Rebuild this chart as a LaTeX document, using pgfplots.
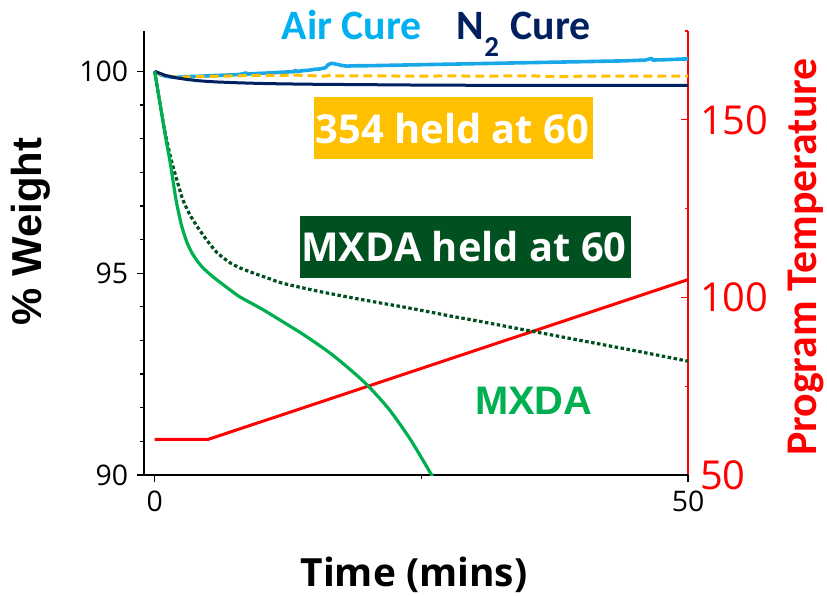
\documentclass[border=0pt]{standalone}
\usepackage{fontspec}
\usepackage{pgfplots}
\pgfplotsset{compat=1.18}
\setmainfont{Open Sans}
\newfontfamily\osans{Open Sans}
\newfontfamily\carl{Carlito}
\newfontfamily\arialf{Liberation Sans}

\definecolor{airblue}{RGB}{0,176,240}
\definecolor{airline}{RGB}{24,168,234}
\definecolor{navy}{RGB}{0,32,96}
\definecolor{amber}{RGB}{255,192,0}
\definecolor{dkgreen}{RGB}{0,80,32}
\definecolor{mgreen}{RGB}{0,176,80}

% weight-loss curves (time in min, % weight)
\pgfplotstableread{
t w
0 100
0.3 99.95
0.6 99.91
1 99.88
1.5 99.86
2 99.85
2.5 99.86
3 99.87
4 99.875
5 99.89
6 99.9
7 99.91
8 99.925
8.6 99.96
8.7 99.93
9 99.94
10 99.95
11 99.965
12 99.98
13 99.99
13.2 100.03
13.3 99.995
14 100.02
14.5 100.03
15 100.05
15.5 100.06
16 100.09
16.3 100.17
16.6 100.2
17 100.18
17.5 100.15
18 100.13
19 100.14
20 100.14
22 100.15
24 100.16
26 100.17
28 100.18
30 100.19
32 100.2
34 100.21
36 100.22
38 100.23
40 100.24
42 100.25
44 100.26
46 100.28
46.6 100.32
46.7 100.28
48 100.29
50 100.31
}\aircure

\pgfplotstableread{
t w
0 100
0.5 99.93
1 99.89
2 99.86
3 99.86
4 99.87
6 99.88
8 99.89
10 99.9
12 99.9
13 99.91
14 99.9
15 99.89
16 99.88
16.5 99.91
17 99.89
20 99.89
25 99.88
28 99.89
30 99.88
35 99.89
38 99.87
40 99.88
45 99.88
50 99.88
}\heldthree

\pgfplotstableread{
t w
0 100
0.5 99.95
1 99.9
2 99.84
3 99.8
4 99.77
5 99.75
6 99.735
8 99.715
10 99.7
12 99.69
15 99.68
20 99.67
25 99.66
30 99.655
40 99.65
50 99.65
}\ntwocure

\pgfplotstableread{
t w
0 100
0.5 99.2
1.0 98.45
1.58 97.78
2.2 97.2
2.67 96.8
3.3 96.45
3.93 96.18
4.8 95.85
5.8 95.52
7 95.27
8 95.13
9.5 94.98
10.8 94.86
12 94.75
15.2 94.56
18.3 94.4
21 94.27
24 94.13
27.7 93.94
30 93.83
35 93.58
40 93.33
45 93.08
50 92.82
}\mxdaheld

\pgfplotstableread{
t w
0 100
0.5 99.2
1.0 98.4
1.43 97.78
1.8 97.15
2.05 96.75
2.5 96.2
3.0 95.78
3.5 95.5
4.0 95.3
4.5 95.14
5.2 94.97
6 94.8
7 94.6
8 94.41
10 94.12
11.5 93.88
14 93.47
16.4 93.03
18.3 92.62
20 92.21
22 91.62
24 90.87
26.1 89.94
}\mxda

\begin{document}
\begin{tikzpicture}
\useasboundingbox (-144bp,-121bp) rectangle (683bp,475bp);

% program temperature on the right-hand axis
\begin{axis}[
  scale only axis, width=544bp, height=444bp,
  xmin=-1, xmax=50, ymin=50, ymax=175,
  axis x line=none, axis y line*=right,
  axis line style={-, red, line width=1.4bp},
  ytick={50,100,150}, minor ytick={75,125,175},
  tick align=inside,
  major tick length=7bp, minor tick length=3.5bp,
  tick style={red, line width=1.2bp},
  /pgf/number format/assume math mode=true,
  yticklabel style={font=\osans\fontsize{40}{40}\selectfont, text=red,
    anchor=west, inner sep=0pt},
  yticklabel shift=12bp,
]
\addplot[red, line width=3bp, line join=round] coordinates {(0,60) (5,60) (50,105)};
\end{axis}

% percent weight on the left-hand axis
\begin{axis}[
  scale only axis, width=544bp, height=444bp,
  xmin=-1, xmax=50, ymin=90, ymax=101,
  axis x line*=bottom, axis y line*=left,
  axis line style={-, black, line width=1.4bp},
  xtick={0,50}, minor xtick={25},
  ytick={90,95,100}, minor y tick num=5,
  tick align=outside,
  major tick length=7bp, minor tick length=3.5bp,
  tick style={black, line width=1.2bp},
  /pgf/number format/assume math mode=true,
  tick label style={font=\osans\fontsize{28.5}{30}\selectfont},
  yticklabel style={anchor=east, inner sep=0pt},
  xticklabel style={anchor=north, inner sep=0pt},
  yticklabel shift=8.7bp,
  xticklabel shift=9bp,
]
\addplot[airline, line width=3.6bp, line join=round] table[x=t,y=w] {\aircure};
\addplot[amber, line width=3bp, dash pattern=on 9bp off 5bp] table[x=t,y=w] {\heldthree};
\addplot[navy, line width=3bp, line join=round] table[x=t,y=w] {\ntwocure};
\addplot[dkgreen, line width=3.2bp, dash pattern=on 3.5bp off 2.5bp, smooth, tension=0.4] table[x=t,y=w] {\mxdaheld};
\addplot[mgreen, line width=3.2bp, smooth, tension=0.4] table[x=t,y=w] {\mxda};
\end{axis}

% axis titles
\node[rotate=90, anchor=base, font=\arialf\bfseries\fontsize{42}{42}\selectfont]
  at (-102.3bp,243.5bp) {\% Weight};
\node[rotate=90, anchor=base, text=red, font=\carl\bfseries\fontsize{44}{44}\selectfont]
  at (672bp,218bp) {Program Temperature};
\node[anchor=base, font=\osans\bfseries\fontsize{39}{39}\selectfont]
  at (270bp,-111.7bp) {Time (mins)};

% series labels
\node[anchor=base west, inner sep=0pt, text=airblue, font=\carl\bfseries\fontsize{42}{42}\selectfont]
  at (137.7bp,435bp) {Air Cure};
\node[anchor=base west, inner sep=0pt, text=navy, font=\carl\bfseries\fontsize{42}{42}\selectfont]
  at (312.7bp,435bp) {N\raisebox{-17bp}{\fontsize{29}{29}\selectfont 2}\hspace{2bp} Cure};

\fill[amber] (170.3bp,316bp) rectangle (448.7bp,377.7bp);
\node[anchor=base, text=white, font=\osans\bfseries\fontsize{40}{40}\selectfont]
  at (308.5bp,331.7bp) {354 held at 60};

\fill[dkgreen] (156bp,196.7bp) rectangle (487bp,259bp);
\node[anchor=base, text=white, font=\osans\bfseries\fontsize{40}{40}\selectfont]
  at (320bp,213.3bp) {MXDA held at 60};

\node[anchor=base west, inner sep=0pt, text=mgreen, font=\arialf\bfseries\fontsize{40}{40}\selectfont]
  at (331bp,60bp) {MXDA};
\end{tikzpicture}
\end{document}
